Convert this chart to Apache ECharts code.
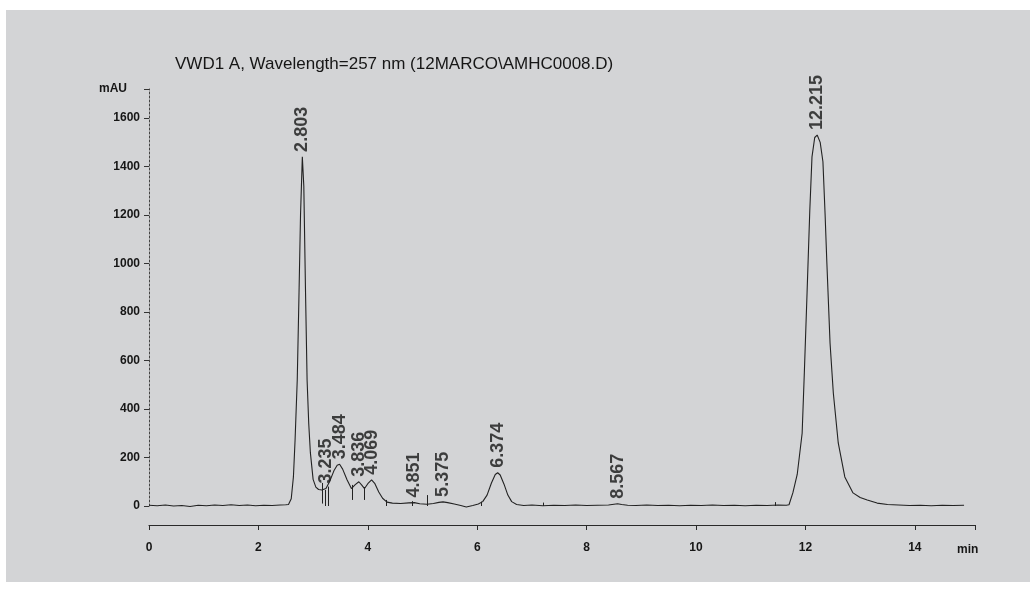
<!DOCTYPE html>
<html><head><meta charset="utf-8">
<script src="https://cdn.jsdelivr.net/npm/echarts@6/dist/echarts.min.js"></script>
<style>
html,body{margin:0;padding:0;background:#ffffff;width:1036px;height:589px;overflow:hidden}
#panel{position:absolute;left:6px;top:10px;width:1024px;height:572px;background:#d3d4d6}
#chart{width:1024px;height:572px}
</style></head><body>
<div id="panel"><div id="chart"></div></div>
<script>
// ---- data ----
const titleText = 'VWD1 A, Wavelength=257 nm (12MARCO\\AMHC0008.D)';
const yUnit = 'mAU';
const xUnit = 'min';

// trace: retention time (min) and absorbance (mAU)
const traceTime = [
  0.00,0.15,0.30,0.45,0.60,0.75,0.90,1.05,1.20,1.35,1.50,1.65,1.80,1.95,2.10,2.25,2.40,2.50,
  2.55,2.60,2.64,2.67,2.71,2.74,2.77,2.803,2.83,2.86,2.89,2.92,2.95,3.00,3.05,3.10,3.16,3.235,
  3.30,3.38,3.44,3.484,3.54,3.62,3.70,3.77,3.836,3.89,3.94,4.00,4.069,4.13,4.20,4.27,4.35,
  4.45,4.60,4.75,4.851,4.95,5.08,5.20,5.30,5.375,5.46,5.58,5.70,5.80,5.92,6.02,6.10,6.18,6.26,
  6.33,6.374,6.42,6.49,6.56,6.63,6.72,6.85,7.00,7.20,7.40,7.60,7.80,8.00,8.20,8.40,8.50,8.567,
  8.64,8.75,8.90,9.10,9.30,9.50,9.70,9.90,10.10,10.30,10.50,10.70,10.90,11.10,11.30,11.50,11.65,
  11.70,11.77,11.85,11.94,11.98,12.03,12.08,12.12,12.17,12.215,12.27,12.32,12.36,12.39,12.45,
  12.51,12.60,12.72,12.87,13.00,13.13,13.31,13.50,13.70,13.90,14.10,14.30,14.50,14.70,14.90,15.10
];
const traceMAU = [
  3,1,4,0,2,-2,3,1,4,2,5,2,4,1,3,2,4,5,
  6,30,120,270,520,850,1200,1440,1320,900,520,340,220,110,78,68,66,72,
  100,145,168,172,152,108,72,88,100,86,72,92,108,92,58,32,16,
  12,10,13,14,9,7,10,15,17,14,8,2,-4,2,8,18,45,95,
  130,137,128,90,45,18,6,2,4,1,3,2,4,2,3,4,7,9,
  6,3,2,4,2,3,1,3,2,4,2,3,1,3,2,4,3,
  5,54,130,300,550,880,1220,1440,1520,1530,1500,1420,1200,1014,672,
  466,260,120,54,35,25,12,6,4,2,3,1,3,2,3
];

// integrated peaks: retention time labels and apex heights
const peakTimes   = [2.803, 3.235, 3.484, 3.836, 4.069, 4.851, 5.375, 6.374, 8.567, 12.215];
const peakLabels  = ['2.803','3.235','3.484','3.836','4.069','4.851','5.375','6.374','8.567','12.215'];
const peakHeights = [1440, 72, 172, 100, 108, 14, 17, 137, 9, 1530];

// baseline event marks: time, upper mAU, lower mAU
const eventMarks = [
  [3.16, 95, 10], [3.22, 66, 0], [3.27, 80, 0], [3.71, 87, 25], [3.93, 78, 25],
  [4.33, 25, 0], [4.81, 20, 0], [5.08, 45, 0], [6.07, 18, 0], [7.2, 14, 0], [11.44, 16, 0]
];

// axis ticks
const xMin = 0, xMax = 15.1, xStep = 2;
const yMin = 0, yMax = 1720, yStep = 200;

// ---- chart ----
const ink = '#161616';
const font = 'Liberation Sans, Arial, sans-serif';
const chart = echarts.init(document.getElementById('chart'), null, {renderer: 'canvas'});
chart.setOption({
  animation: false,
  backgroundColor: 'transparent',
  textStyle: {fontFamily: font, color: ink},
  title: {
    text: titleText, left: 164, top: 41,
    textStyle: {fontSize: 17, fontWeight: 'normal', color: ink, fontFamily: font}
  },
  graphic: [{
    type: 'text', left: 951, top: 534,
    style: {text: xUnit, fontSize: 12, fontWeight: 'bold', fill: ink, fontFamily: font}
  }],
  grid: {left: 143, right: 55, top: 79, bottom: 76, containLabel: false},
  xAxis: {
    type: 'value', min: xMin, max: xMax, interval: xStep, offset: 19,
    axisLine: {show: true, onZero: false, lineStyle: {color: '#2a2a2a', width: 1.2}},
    axisTick: {show: true, length: 5, lineStyle: {color: '#2a2a2a'}},
    axisLabel: {
      fontSize: 12, fontWeight: 'bold', color: ink, margin: 17,
      formatter: v => (Math.abs(v % xStep) < 1e-9 ? String(v) : '')
    },
    splitLine: {show: false}
  },
  yAxis: {
    type: 'value', min: yMin, max: yMax, interval: yStep,
    axisLine: {show: true, lineStyle: {color: '#444', width: 1, type: [2, 2]}},
    axisTick: {show: true, length: 5, lineStyle: {color: '#333'}},
    axisLabel: {
      fontSize: 12, fontWeight: 'bold', color: ink, margin: 9,
      formatter: v => (v % yStep === 0 ? String(v) : '')
    },
    splitLine: {show: false},
    name: yUnit, nameLocation: 'end', nameGap: 0,
    nameTextStyle: {fontSize: 12, fontWeight: 'bold', color: ink, align: 'right', verticalAlign: 'middle', padding: [0, 22, 0, 0]}
  },
  series: [
    {
      type: 'line',
      data: traceTime.map((t, i) => [t, traceMAU[i]]),
      showSymbol: false, symbol: 'none', clip: false, smooth: false,
      lineStyle: {color: '#222', width: 1.1},
      markLine: {
        silent: true, symbol: ['none', 'none'], label: {show: false},
        lineStyle: {color: '#222', type: 'solid', width: 1},
        data: eventMarks.map(([t, a, b]) => [{coord: [t, a]}, {coord: [t, b]}])
      }
    },
    {
      type: 'scatter',
      data: peakTimes.map((t, i) => [t, peakHeights[i], peakLabels[i]]),
      symbolSize: 0, clip: false, silent: true,
      label: {
        show: true, position: 'top', distance: 5, rotate: 90,
        align: 'left', verticalAlign: 'middle',
        formatter: p => p.value[2],
        fontSize: 18, fontWeight: 'bold', color: ink, fontFamily: font
      }
    }
  ]
});
</script>
</body></html>
